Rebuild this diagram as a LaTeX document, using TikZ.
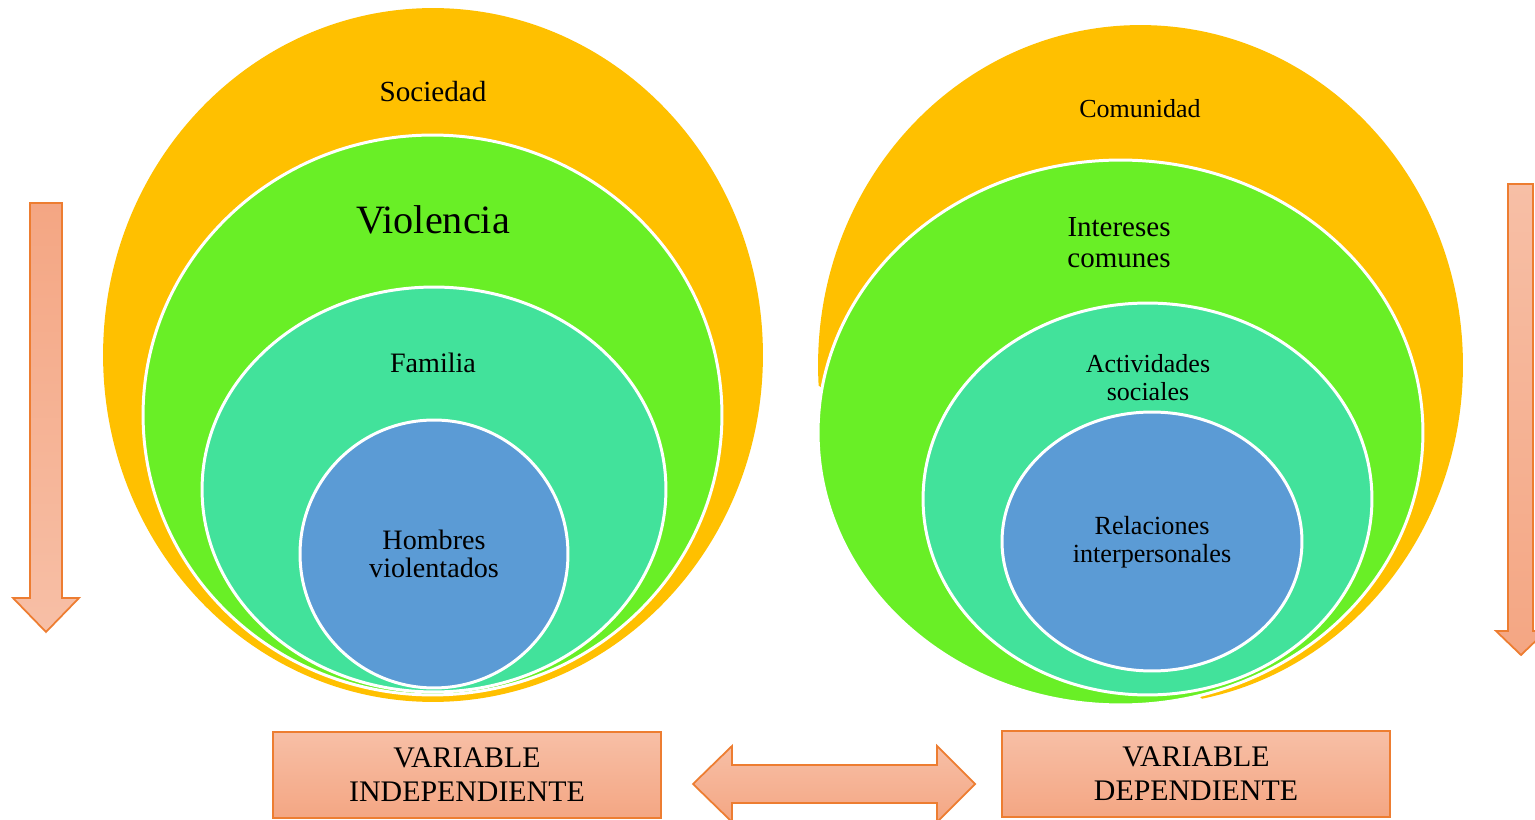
\documentclass[tikz,border=0pt]{standalone}
\usepackage{fontspec}
\setmainfont{Liberation Serif}
\usetikzlibrary{positioning}
\definecolor{sociedad}{HTML}{FFC000}
\definecolor{violencia}{HTML}{69EF26}
\definecolor{familia}{HTML}{42E29B}
\definecolor{hombres}{HTML}{5B9BD5}
\definecolor{arrline}{HTML}{ED7D31}
\definecolor{arrdark}{HTML}{F4A683}
\definecolor{arrlight}{HTML}{F7BFA6}
\tikzset{
  ring/.style={draw=white, line width=1.7pt},
  lbl/.style={align=center, inner sep=0pt, font=\fontsize{16}{16}\selectfont},
  blockarrow/.style={draw=arrline, line width=1pt, line join=miter},
  varbox/.style={draw=arrline, line width=1pt, top color=arrlight, bottom color=arrdark,
    minimum width=7.76cm, minimum height=1.73cm, inner sep=0pt, align=center,
    font=\fontsize{17}{19.4}\selectfont},
}
\begin{document}
\begin{tikzpicture}[x=0.02cm, y=-0.02cm]
  \useasboundingbox (0,0) rectangle (1535,820);
  % left group
  \fill[sociedad] (433,355) ellipse [x radius=6.6cm, y radius=6.94cm];
  \filldraw[ring, fill=violencia] (432.5,415) ellipse [x radius=5.79cm, y radius=5.6cm];
  \filldraw[ring, fill=familia] (434,489.5) ellipse [x radius=4.64cm, y radius=4.05cm];
  \filldraw[ring, fill=hombres] (434,554) ellipse [x radius=2.68cm, y radius=2.68cm];
  \node[lbl, font=\fontsize{16.6}{16.6}\selectfont] (soc) at (433,92) {Sociedad};
  \node[lbl, font=\fontsize{22.9}{22.9}\selectfont] (vio) at (433,220) {Violencia};
  \node[lbl] (fam) at (433,363) {Familia};
  \node[lbl] (hom) at (434,554) {Hombres\\violentados};
  % right group
  \begin{scope}
    \clip (703,291) -- (1315,791) -- (1600,791) -- (1600,-10) -- (703,-10) -- cycle;
    \fill[sociedad] (1140.5,365) ellipse [x radius=6.45cm, y radius=6.8cm];
  \end{scope}
  \filldraw[ring, fill=violencia] (1120.5,432.5) ellipse [x radius=6.05cm, y radius=5.45cm];
  \filldraw[ring, fill=familia] (1147.5,499) ellipse [x radius=4.49cm, y radius=3.92cm];
  \filldraw[ring, fill=hombres] (1152,541.5) ellipse [x radius=3cm, y radius=2.59cm];
  \node[lbl, font=\fontsize{14.8}{14.8}\selectfont] (com) at (1140,109) {Comunidad};
  \node[lbl, font=\fontsize{16.5}{17.6}\selectfont] (int) at (1119,242.5) {Intereses\\comunes};
  \node[lbl, font=\fontsize{14.8}{16}\selectfont] (act) at (1148,378) {Actividades\\sociales};
  \node[lbl, font=\fontsize{14.9}{16}\selectfont] (rel) at (1152,542) {Relaciones\\interpersonales};
  % side arrows
  \draw[blockarrow, top color=arrdark, bottom color=arrlight]
    (30,203) -- (62,203) -- (62,598) -- (79,598) -- (46,632) -- (13,598) -- (30,598) -- cycle;
  \draw[blockarrow, top color=arrlight, bottom color=arrdark]
    (1508,184) -- (1533,184) -- (1533,631) -- (1546,631) -- (1521,655) -- (1496,631) -- (1508,631) -- cycle;
  % variables
  \node[varbox] (vind) at (467,775) {VARIABLE\\INDEPENDIENTE};
  \node[varbox] (vdep) at (1196,774) {VARIABLE\\DEPENDIENTE};
  \draw[blockarrow, top color=arrlight, bottom color=arrdark]
    (693,784) -- (732,746) -- (732,765) -- (937,765) -- (937,746) -- (975,784)
    -- (937,822) -- (937,803) -- (732,803) -- (732,822) -- cycle;
\end{tikzpicture}
\end{document}
